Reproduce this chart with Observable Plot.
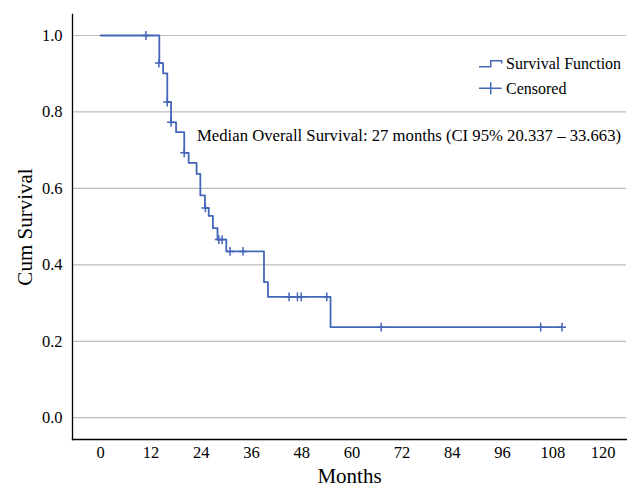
<!DOCTYPE html>
<html>
<head>
<meta charset="utf-8">
<script src="https://cdn.jsdelivr.net/npm/d3@7"></script>
<script src="https://cdn.jsdelivr.net/npm/@observablehq/plot@0.6"></script>
<style>
  body { margin: 0; background: #fff; }
  #wrap { position: relative; width: 627px; height: 488px; font-family: "Liberation Serif", "Times New Roman", serif; }
  #wrap svg text { font-family: "Liberation Serif", "Times New Roman", serif; }
  #overlay { position: absolute; left: 0; top: 0; pointer-events: none; }
</style>
</head>
<body>
<div id="wrap"></div>
<script>
// Step function (Kaplan–Meier)
const stepTimes = [0, 14.0, 14.9, 15.9, 16.8, 18.0, 19.95, 21.0, 22.9, 23.8, 24.9, 25.8, 26.8, 27.9, 30.0, 39.0, 39.95, 54.9, 110.2];
const stepSurv  = [1.0, 0.928, 0.901, 0.826, 0.773, 0.747, 0.693, 0.667, 0.638, 0.582, 0.549, 0.528, 0.496, 0.466, 0.435, 0.355, 0.316, 0.237, 0.237];
// Censored observations
const censorTimes = [10.8, 13.9, 15.9, 16.8, 19.95, 25.0, 28.2, 29.0, 30.9, 34.0, 45.0, 47.0, 47.9, 54.0, 67.0, 105.1, 110.2];
const censorSurv  = [1.0, 0.928, 0.826, 0.773, 0.693, 0.549, 0.466, 0.466, 0.435, 0.435, 0.316, 0.316, 0.316, 0.316, 0.237, 0.237, 0.237];
// Ticks
const xTicks = [0, 12, 24, 36, 48, 60, 72, 84, 96, 108, 120];
const yTicks = [0.0, 0.2, 0.4, 0.6, 0.8, 1.0];
// Texts
const xTitle = "Months";
const yTitle = "Cum Survival";
const legendLabels = ["Survival Function", "Censored"];
const annotationText = "Median Overall Survival: 27 months (CI 95% 20.337 \u2013 33.663)";

const serif = '"Liberation Serif", "Times New Roman", serif';
const lineColor = "#4466b8";
const stepData = stepTimes.map((t, i) => ({t, s: stepSurv[i]}));
const censorData = censorTimes.map((t, i) => ({t, s: censorSurv[i]}));

const plusSymbol = {
  draw(ctx, size) {
    const r = Math.sqrt(size / Math.PI);
    ctx.moveTo(-r, 0); ctx.lineTo(r, 0);
    ctx.moveTo(0, -r * 1.1); ctx.lineTo(0, r * 1.1);
  }
};

const chart = Plot.plot({
  width: 627,
  height: 488,
  marginLeft: 72,
  marginRight: 1,
  marginTop: 14,
  marginBottom: 49,
  style: {fontFamily: serif, fontSize: "16px", color: "#000", background: "#fff"},
  x: {domain: [-6.74, 125.6]},
  y: {domain: [-0.057, 1.055]},
  marks: [
    Plot.gridY(yTicks, {stroke: "#bdbdbd", strokeOpacity: 1, strokeWidth: 1.2}),
    Plot.axisY(yTicks, {tickSize: 0, tickPadding: 10, tickFormat: d3.format(".1f"), fontSize: 16.5, fontFamily: serif, label: null}),
    Plot.axisX(xTicks, {tickSize: 0, tickPadding: 7, tickFormat: d => String(d), fontSize: 16.5, fontFamily: serif, label: null}),
    Plot.frame({anchor: "left", stroke: "#000", strokeWidth: 1.3}),
    Plot.frame({anchor: "bottom", stroke: "#000", strokeWidth: 1.3}),
    Plot.text([yTitle], {frameAnchor: "left", rotate: -90, textAnchor: "middle", lineAnchor: "middle", dx: -47, fontSize: 21, fontFamily: serif, fill: "#000"}),
    Plot.text([xTitle], {frameAnchor: "bottom", textAnchor: "middle", lineAnchor: "middle", dy: 37, fontSize: 21, fontFamily: serif, fill: "#000"}),
    Plot.line(stepData, {x: "t", y: "s", curve: "step-after", stroke: lineColor, strokeWidth: 1.8}),
    Plot.dot(censorData, {x: "t", y: "s", symbol: plusSymbol, r: 4, stroke: lineColor, strokeWidth: 1.5, fill: "none"})
  ]
});

const wrap = document.getElementById("wrap");
wrap.appendChild(chart);

// Legend and annotation overlay
const ns = "http://www.w3.org/2000/svg";
const ov = document.createElementNS(ns, "svg");
ov.setAttribute("id", "overlay");
ov.setAttribute("width", 627);
ov.setAttribute("height", 488);
ov.innerHTML = `
  <g font-family='"Liberation Serif", "Times New Roman", serif' font-size="16" fill="#000">
    <path d="M479,66.7 H490.7 V60.7 H501.7 V63.5" fill="none" stroke="${lineColor}" stroke-width="1.5"/>
    <text x="506" y="69.3">${legendLabels[0]}</text>
    <path d="M479,88.3 H501.7 M490.7,82.3 V94.3" fill="none" stroke="${lineColor}" stroke-width="1.5"/>
    <text x="506" y="93.8">${legendLabels[1]}</text>
    <text x="197" y="140.8" font-size="16.7">${annotationText}</text>
  </g>`;
wrap.appendChild(ov);
</script>
</body>
</html>
